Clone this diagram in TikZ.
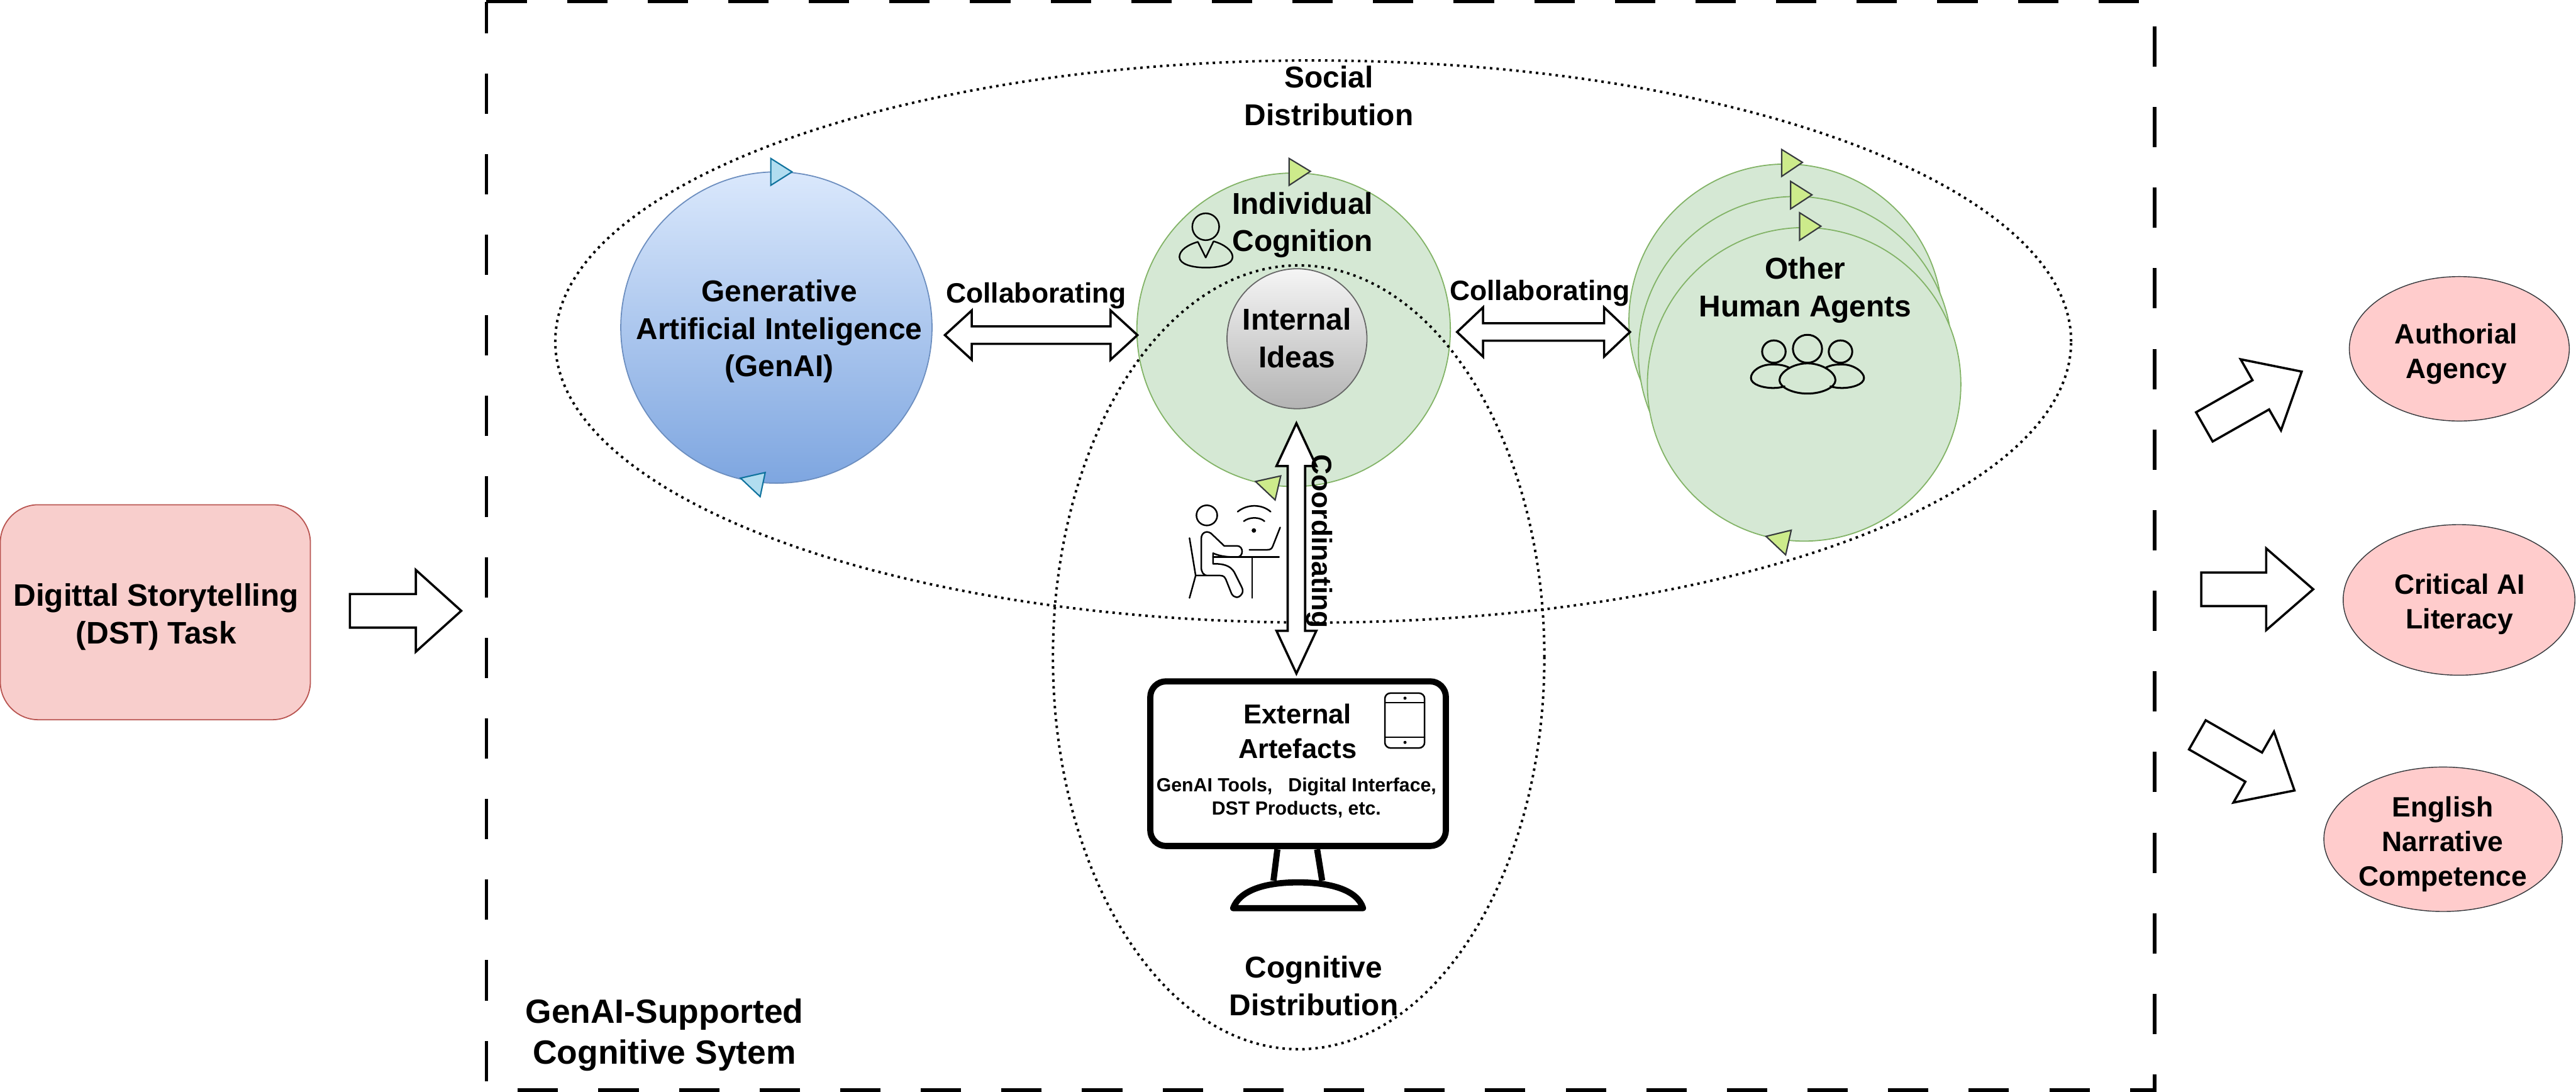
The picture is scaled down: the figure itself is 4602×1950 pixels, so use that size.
\documentclass[tikz,border=0pt]{standalone}
\usepackage{fontspec}
\setmainfont{Liberation Sans}
\usetikzlibrary{shapes.geometric,shapes.arrows}
\definecolor{pinkF}{HTML}{F8CECC}
\definecolor{pinkS}{HTML}{B85450}
\definecolor{roseF}{HTML}{FFCCCC}
\definecolor{darkS}{HTML}{36393D}
\definecolor{greenF}{HTML}{D5E8D4}
\definecolor{greenS}{HTML}{82B366}
\definecolor{blueTop}{HTML}{DAE8FC}
\definecolor{blueBot}{HTML}{7EA6E0}
\definecolor{blueS}{HTML}{6C8EBF}
\definecolor{limeF}{HTML}{CDEB8B}
\definecolor{skyF}{HTML}{B1DDF0}
\definecolor{skyS}{HTML}{10739E}
\definecolor{silverTop}{HTML}{F5F5F5}
\definecolor{silverBot}{HTML}{B3B3B3}
\definecolor{silverS}{HTML}{666666}
\tikzset{
  lbl/.style={inner sep=0pt,outer sep=0pt,align=center,font=\bfseries\fontsize{13.45}{16.7}\selectfont},
  lblc/.style={inner sep=0pt,outer sep=0pt,align=center,font=\bfseries\fontsize{12.5}{15}\selectfont},
  lbls/.style={inner sep=0pt,outer sep=0pt,align=center,font=\bfseries\fontsize{8.5}{10.5}\selectfont},
  lbld/.style={inner sep=0pt,outer sep=0pt,align=center,font=\bfseries\fontsize{15}{18.25}\selectfont},
  lblo/.style={inner sep=0pt,outer sep=0pt,align=center,font=\bfseries\fontsize{12.5}{15.4}\selectfont},
  gcircle/.style={circle,draw=greenS,fill=greenF,line width=0.5pt,minimum size=140pt,inner sep=0pt,outer sep=0pt},
  outcome/.style={ellipse,draw=darkS,fill=roseF,line width=0.4pt,inner sep=0pt,outer sep=0pt},
  dotty/.style={line width=1.1pt,dash pattern=on 1.1pt off 1.85pt},
  gtri/.style={draw=darkS,fill=limeF,line width=0.6pt,line join=miter},
  btri/.style={draw=skyS,fill=skyF,line width=0.6pt,line join=miter},
  sarrow/.style={single arrow,draw=black,fill=white,line width=1pt,inner xsep=0pt,inner ysep=7pt,outer sep=0pt,anchor=tail,
    single arrow head extend=10.75pt,minimum height=50pt,single arrow tip angle=82},
  darrow/.style={double arrow,draw=black,fill=white,line width=1pt,inner xsep=0pt,inner ysep=3.4pt,outer sep=0pt,double arrow head extend=7.1pt},
  icon/.style={draw=black,line width=0.7pt,line join=round,line cap=round},
  mon/.style={draw=black,line width=2.75pt,line join=round},
}
\begin{document}
\begin{tikzpicture}[x=0.25pt,y=-0.25pt]
\useasboundingbox (0,0) rectangle (4602,1950);
% frame
\draw[line width=1.5pt,dash pattern=on 18pt off 18pt] (869,3) -- (3849,3) -- (3849,1947) -- (869,1947) -- cycle;
% task
\node[draw=pinkS,fill=pinkF,line width=0.5pt,rounded corners=17pt,minimum width=138.5pt,minimum height=96pt,inner sep=0pt,outer sep=0pt] (task) at (277.5,1093.5) {};
\node[lbl,font=\bfseries\fontsize{13.9}{17}\selectfont] (taskT) at (279,1102) {Digittal Storytelling\\(DST) Task};
\node[sarrow,minimum height=49.75pt,single arrow tip angle=84] (arrTask) at (625,1091) {};
% circles
\node[circle,draw=blueS,top color=blueTop,bottom color=blueBot,line width=0.5pt,minimum size=139pt,inner sep=0pt,outer sep=0pt] (genai) at (1387,585) {};
\node[gcircle] (indiv) at (2311,589) {};
\node[gcircle] (oth1) at (3190,573) {};
\node[gcircle] (oth2) at (3207,631) {};
\node[gcircle] (oth3) at (3223,686.5) {};
% triangles
\draw[btri] (1377,283) -- (1415,307) -- (1377,331) -- cycle;
\draw[btri] (1323,854) -- (1367,844) -- (1358,887) -- cycle;
\draw[gtri] (2303,283) -- (2341,306) -- (2303,331) -- cycle;
\draw[gtri] (2243,860) -- (2288,850) -- (2278,893) -- cycle;
\draw[gtri] (3183,267) -- (3220,290) -- (3183,315) -- cycle;
\draw[gtri] (3199,324) -- (3237,348) -- (3199,373) -- cycle;
\draw[gtri] (3215,380) -- (3253,404) -- (3215,429) -- cycle;
\draw[gtri] (3155,958) -- (3200,947) -- (3190,991) -- cycle;
% internal
\node[circle,draw=silverS,top color=silverTop,bottom color=silverBot,line width=0.5pt,minimum size=62.5pt,inner sep=0pt,outer sep=0pt] (ideas) at (2317,605) {};
% distribution ellipses
\node[ellipse,draw=black,dotty,minimum width=677pt,minimum height=251pt,inner sep=0pt,outer sep=0pt] (social) at (2346,610) {};
\node[ellipse,draw=black,dotty,minimum width=219.5pt,minimum height=350pt,inner sep=0pt,outer sep=0pt] (cognitive) at (2320,1174) {};
% block arrows
\node[darrow,minimum height=86pt,double arrow tip angle=85] (arrL) at (1860,598.5) {};
\node[darrow,minimum height=77.25pt,double arrow tip angle=87] (arrR) at (2757.5,593) {};
\node[darrow,rotate=90,minimum height=111.75pt,double arrow head extend=5pt,double arrow tip angle=50] (arrV) at (2316,979.5) {};
% monitor
\node[mon,fill=white,rounded corners=7pt,minimum width=132pt,minimum height=73.5pt,inner sep=0pt,outer sep=0pt] (screen) at (2319,1364) {};
\draw[mon] (2282,1517) -- (2275,1573);
\draw[mon] (2353,1517) -- (2362,1573);
\draw[mon] (2203,1622) .. controls (2215,1590) and (2260,1576) .. (2319,1576) .. controls (2378,1576) and (2425,1590) .. (2435,1622) -- cycle;
% tablet
\draw[icon,rounded corners=2.5pt] (2474,1238) rectangle (2545,1336);
\draw[icon] (2474,1255) -- (2545,1255);
\draw[icon] (2474,1317) -- (2545,1317);
\fill (2510,1247) circle[radius=2.8];
\fill (2510,1326) circle[radius=2.8];
% person icon
\draw[icon] (2154,405) ellipse[x radius=24,y radius=24];
\draw[icon] (2140,432) .. controls (2122,437) and (2107,447) .. (2107,459) .. controls (2107,472) and (2130,478) .. (2154,478) .. controls (2180,478) and (2202,472) .. (2202,459) .. controls (2202,447) and (2186,436) .. (2168,431) -- (2154,460) -- cycle;
% people icon
\draw[icon,line width=0.85pt] (3229,623) ellipse[x radius=26,y radius=25];
\draw[icon,line width=0.85pt] (3169,628) ellipse[x radius=21,y radius=20];
\draw[icon,line width=0.85pt] (3288,628) ellipse[x radius=21,y radius=20];
\draw[icon,line width=0.85pt] (3197,657) .. controls (3185,651) and (3175,651) .. (3165,651) .. controls (3145,651) and (3128,663) .. (3128,675) .. controls (3128,687) and (3150,693) .. (3168,693) .. controls (3175,693) and (3182,692) .. (3188,690);
\draw[icon,line width=0.85pt] (3261,657) .. controls (3272,651) and (3282,651) .. (3292,651) .. controls (3312,651) and (3330,665) .. (3330,675) .. controls (3330,687) and (3308,693) .. (3290,693) .. controls (3283,693) and (3276,692) .. (3270,690);
\draw[icon,line width=0.85pt] (3229,649) .. controls (3255,649) and (3279,665) .. (3279,679) .. controls (3279,692) and (3255,703) .. (3229,703) .. controls (3203,703) and (3179,692) .. (3179,679) .. controls (3179,665) and (3203,649) .. (3229,649) -- cycle;
% sitting user icon
\draw[icon] (2156,920.5) ellipse[x radius=18.6,y radius=18];
\draw[icon] (2211,914) .. controls (2228,900) and (2254,900) .. (2270,914);
\draw[icon] (2222,931) .. controls (2232,923) and (2250,923) .. (2259,931);
\fill (2240,947.5) circle[radius=4];
\draw[icon] (2232,982) -- (2264,982) .. controls (2270,982) and (2272,980) .. (2274,975) -- (2287,942);
\draw[icon] (2167,995) -- (2285,995);
\draw[icon] (2237,995) -- (2237,1068);
\draw[icon] (2125,961) -- (2136,1028) -- (2125,1068);
\draw[icon] (2136,1028) -- (2180,1028) .. controls (2186,1028) and (2188,1031) .. (2190,1035) -- (2200,1060) .. controls (2204,1068) and (2213,1070) .. (2219,1060) .. controls (2221,1056) and (2220,1052) .. (2218,1048) -- (2205,1022) .. controls (2198,1010) and (2185,1007) .. (2170,1007) -- (2167,1007) -- (2167,988) .. controls (2180,994) and (2195,995) .. (2210,995) .. controls (2222,995) and (2222,975) .. (2210,975) -- (2187,975) -- (2166,955) .. controls (2158,946) and (2146,950) .. (2146,962) -- (2146,1013) .. controls (2146,1022) and (2150,1028) .. (2158,1028);
% labels
\node[lbl] (tGen) at (1392,592) {Generative\\Artificial Inteligence\\(GenAI)};
\node[lblc] (tC1) at (1851,528) {Collaborating};
\node[lblc] (tC2) at (2751,524) {Collaborating};
\node[lbl] (tInd) at (2327,402) {Individual\\Cognition};
\node[lbl] (tIdeas) at (2317,604) {Internal\\Ideas};
\node[lbl] (tOther) at (3225,518) {Other\\Human Agents};
\node[lbl] (tSoc) at (2374,171) {Social\\Distribution};
\node[lbl] (tCog) at (2347,1761) {Cognitive\\Distribution};
\node[lblc,rotate=-90] (tCoord) at (2357,967) {Coordinating};
\node[lbl,font=\bfseries\fontsize{12.2}{15.2}\selectfont] (tExt) at (2318,1306) {External\\Artefacts};
\node[lbls] (tExt2) at (2316,1425) {GenAI Tools,\ \ \ Digital Interface,\\DST Products, etc.};
\node[lbld] (tSys) at (1187,1849) {GenAI-Supported\\Cognitive Sytem};
% outcomes
\node[outcome,minimum width=98.25pt,minimum height=64.5pt] (o1) at (4393.5,623) {};
\node[outcome,minimum width=103.5pt,minimum height=67.25pt] (o2) at (4393,1071.5) {};
\node[outcome,minimum width=106.5pt,minimum height=64.5pt] (o3) at (4364.5,1499) {};
\node[lblo] (to1) at (4388,632) {Authorial\\Agency};
\node[lblo] (to2) at (4394,1079) {Critical AI\\Literacy};
\node[lblo] (to3) at (4364,1508) {English\\Narrative\\Competence};
% outcome arrows
\node[sarrow,rotate=29.6] (a1) at (3938,762.5) {};
\node[sarrow] (a2) at (3932.5,1052.5) {};
\node[sarrow,rotate=-29.8] (a3) at (3925.5,1312.5) {};
\end{tikzpicture}
\end{document}
